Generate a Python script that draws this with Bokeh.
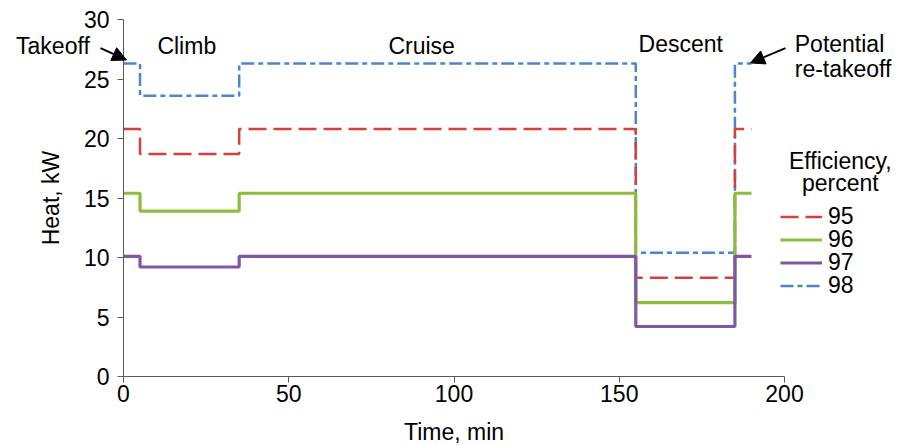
from bokeh.plotting import figure
from bokeh.models import Label, Arrow, NormalHead, Legend, LegendItem, Range1d, FixedTicker
from bokeh.embed import file_html
from bokeh.resources import INLINE

time_min = [0, 5, 35, 155, 185, 190]
eff_95 = [20.8, 18.7, 20.8, 8.3, 20.8, 20.8]
eff_96 = [15.4, 13.9, 15.4, 6.2, 15.4, 15.4]
eff_97 = [10.1, 9.2, 10.1, 4.2, 10.1, 10.1]
eff_98 = [26.3, 23.6, 26.3, 10.4, 26.3, 26.3]
series_labels = ["95", "96", "97", "98"]
x_ticks = [0, 50, 100, 150, 200]
y_ticks = [0, 5, 10, 15, 20, 25, 30]

FONT = "Liberation Sans"
FS = "23px"

# frame spans the whole figure; data x 0..200 at pixels 123..784, y 0..30 at pixels 376..19
W, H = 899, 445
px_per_min = (784 - 123) / 200.0
px_per_kw = (376 - 19) / 30.0
p = figure(width=W, height=H, output_backend="svg", toolbar_location=None,
           x_range=Range1d(-123 / px_per_min, (W - 123) / px_per_min),
           y_range=Range1d(-(H - 376) / px_per_kw, 30 + 19 / px_per_kw),
           min_border_left=0, min_border_right=0, min_border_top=0, min_border_bottom=0)
p.outline_line_color = None
p.grid.grid_line_color = None
p.background_fill_color = "white"

for ax in (p.xaxis[0], p.yaxis[0]):
    ax.axis_line_color = "#595959"
    ax.major_tick_line_color = "#595959"
    ax.minor_tick_line_color = None
    ax.major_tick_in = 0
    ax.major_tick_out = 6
    ax.major_label_text_font = FONT
    ax.major_label_text_font_size = FS
    ax.major_label_text_color = "black"
    ax.axis_label_text_font = FONT
    ax.axis_label_text_font_size = FS
    ax.axis_label_text_font_style = "normal"
    ax.axis_label_text_color = "black"

p.xaxis.ticker = FixedTicker(ticks=x_ticks)
p.yaxis.ticker = FixedTicker(ticks=y_ticks)
p.xaxis.bounds = (0, 200)
p.yaxis.bounds = (0, 30)
p.xaxis.fixed_location = 0
p.yaxis.fixed_location = 0
p.xaxis.axis_label = "Time, min"
p.yaxis.axis_label = "Heat, kW"
p.xaxis.major_label_standoff = 2
p.yaxis.major_label_standoff = 8
p.xaxis.axis_label_standoff = 14
p.yaxis.axis_label_standoff = 17

r98 = p.step(time_min, eff_98, mode="after", line_color="#4A86CF", line_width=2.5, line_dash="13 4 5 4")
r95 = p.step(time_min, eff_95, mode="after", line_color="#D6403C", line_width=2.5, line_dash="18 7")
r96 = p.step(time_min, eff_96, mode="after", line_color="#8DBD3F", line_width=3.2)
r97 = p.step(time_min, eff_97, mode="after", line_color="#7E58A6", line_width=3.2)

# one legend box per entry so the rows sit 23 px apart, as in the reference
legend_rows = [(r95, 215.5), (r96, 192.5), (r97, 169.5), (r98, 146.5)]
for name, (rend, ypos) in zip(series_labels, legend_rows):
    lg = Legend(items=[LegendItem(label=name, renderers=[rend])],
                location=(780, ypos), orientation="vertical",
                label_text_font=FONT, label_text_font_size=FS, label_text_color="black",
                glyph_width=42, glyph_height=23, label_height=23,
                spacing=0, padding=0, margin=0, label_standoff=6,
                border_line_color=None, background_fill_alpha=0)
    p.add_layout(lg, "center")

def lab(x, y, text, align="center"):
    p.add_layout(Label(x=x, y=y, text=text,
                       text_font=FONT, text_font_size=FS, text_color="black",
                       text_align=align, text_baseline="middle"))

lab(19.15, 27.76, "Climb")
lab(90.2, 27.76, "Cruise")
lab(168.6, 27.95, "Descent")
lab(-10.2, 27.76, "Takeoff", align="right")
lab(203.1, 27.95, "Potential", align="left")
lab(203.1, 25.8, "re-takeoff", align="left")
lab(216.9, 18.15, "Efficiency,")
lab(216.9, 16.3, "percent")

p.add_layout(Arrow(x_start=-6.96, y_start=27.6, x_end=0.9, y_end=26.6, line_width=2,
                   line_color="black",
                   end=NormalHead(size=14, fill_color="black", line_color="black")))
p.add_layout(Arrow(x_start=200.3, y_start=27.6, x_end=189.7, y_end=26.35, line_width=2,
                   line_color="black",
                   end=NormalHead(size=14, fill_color="black", line_color="black")))

open("out.html", "w").write(file_html(p, INLINE))
